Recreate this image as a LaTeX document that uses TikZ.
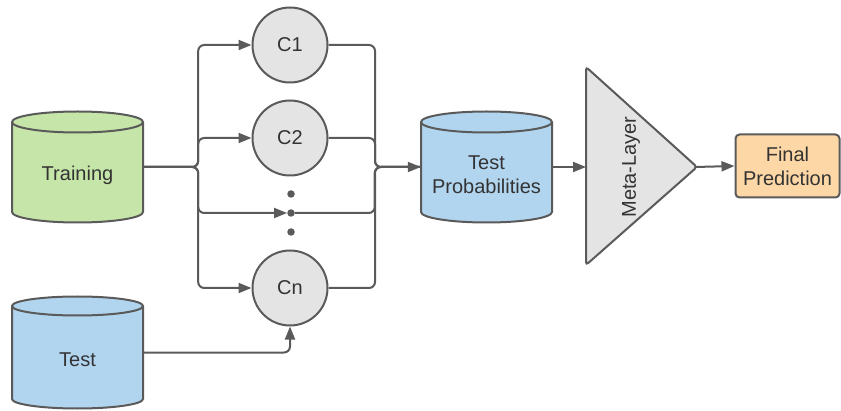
\documentclass[tikz,border=0pt]{standalone}
\usepackage{fontspec}
\setmainfont{Liberation Sans}
\usetikzlibrary{arrows.meta}
\definecolor{ln}{HTML}{5A5A5A}
\definecolor{txt}{HTML}{333333}
\definecolor{cgreen}{HTML}{C6E6A9}
\definecolor{cblue}{HTML}{B2D5EF}
\definecolor{cgray}{HTML}{E4E4E4}
\definecolor{corange}{HTML}{FDD8A6}
\tikzset{
  cyl/.style={draw=ln, line width=2pt},
  anchorbox/.style={rectangle, inner sep=0pt, minimum width=131pt, minimum height=90pt},
  lbl/.style={text=txt, font=\fontsize{20}{24}\selectfont, align=center, inner sep=0pt},
  circ/.style={circle, draw=ln, line width=2pt, fill=cgray, minimum size=75pt, inner sep=0pt, text=txt, font=\fontsize{20}{24}\selectfont},
  dotnode/.style={circle, fill=ln, minimum size=7.5pt, inner sep=0pt},
  conn/.style={draw=ln, line width=2pt, rounded corners=6pt},
  arr/.style={conn, -{Triangle[length=13pt,width=10pt]}},
}
\begin{document}
\begin{tikzpicture}[x=1pt,y=1pt]
\useasboundingbox (0,0) rectangle (841,410);

% Training cylinder
\filldraw[cyl, fill=cgreen] (12,288) -- (12,198) arc[start angle=180,end angle=360,x radius=65.5,y radius=10.5] -- (143,288) arc[start angle=0,end angle=180,x radius=65.5,y radius=10.5] -- cycle;
\draw[cyl] (12,288) arc[start angle=180,end angle=360,x radius=65.5,y radius=10.5];
\node[anchorbox] (train) at (77.5,243) {};
\node[lbl] (trainlbl) at (77.5,235) {Training};

% Test cylinder
\filldraw[cyl, fill=cblue] (12,104) -- (12,11) arc[start angle=180,end angle=360,x radius=65.5,y radius=9.5] -- (143,104) arc[start angle=0,end angle=180,x radius=65.5,y radius=9.5] -- cycle;
\draw[cyl] (12,104) arc[start angle=180,end angle=360,x radius=65.5,y radius=9.5];
\node[anchorbox, minimum height=93pt] (test) at (77.5,57.5) {};
\node[lbl] (testlbl) at (77.5,50) {Test};

% Test Probabilities cylinder
\filldraw[cyl, fill=cblue] (421,288) -- (421,198) arc[start angle=180,end angle=360,x radius=65.5,y radius=10.5] -- (552,288) arc[start angle=0,end angle=180,x radius=65.5,y radius=10.5] -- cycle;
\draw[cyl] (421,288) arc[start angle=180,end angle=360,x radius=65.5,y radius=10.5];
\node[anchorbox] (prob) at (486.5,243) {};
\node[lbl] (problbl) at (486.5,235) {Test\\Probabilities};

% classifiers
\node[circ] (c1) at (290,365) {C1};
\node[circ] (c2) at (290,272) {C2};
\node[circ] (cn) at (290,122) {Cn};
\node[dotnode] (d1) at (291,216) {};
\node[dotnode] (d2) at (291,197) {};
\node[dotnode] (d3) at (291,178) {};

% meta layer
\coordinate (metaw) at (586,243);
\coordinate (metae) at (695,243);
\filldraw[draw=ln, line width=2pt, fill=cgray, rounded corners=3pt] (586,343) -- (697,243) -- (586,145) -- cycle;
\node[lbl, rotate=90] (metalbl) at (631,243) {Meta-Layer};

% final
\node[draw=ln, line width=2pt, fill=corange, rounded corners=4pt, minimum width=104pt, minimum height=63pt, inner sep=0pt, lbl] (final) at (787.5,244) {Final\\Prediction};

% connectors left
\draw[arr] (train.east) -- ++(55,0) |- (c1.west);
\draw[arr] (train.east) -- ++(55,0) |- (c2.west);
\draw[arr] (train.east) -- ++(55,0) |- (d2.west);
\draw[arr] (train.east) -- ++(55,0) |- (cn.west);

% connectors right
\draw[conn] (c1.east) -- ++(46.5,0) |- (prob.west);
\draw[conn] (c2.east) -- ++(46.5,0) |- (prob.west);
\draw[conn] (d2.east) -- ++(79.75,0) |- (prob.west);
\draw[arr] (cn.east) -- ++(46.5,0) |- (prob.west);

% test to cn
\draw[arr] (test.east) -| (cn.south);

\draw[arr] (prob.east) -- (metaw);
\draw[arr] (metae) -- (final.west);
\end{tikzpicture}
\end{document}
